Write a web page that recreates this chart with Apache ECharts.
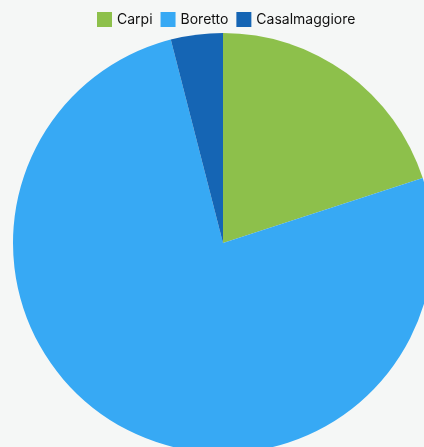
<!DOCTYPE html>
<html><head><meta charset="utf-8">
<script src="https://cdn.jsdelivr.net/npm/echarts@6/dist/echarts.min.js"></script>
<style>html,body{margin:0;padding:0;background:#f5f7f6;}#c{width:424px;height:447px;}</style>
</head><body><div id="c"></div>
<script>
const categories = ['Carpi', 'Boretto', 'Casalmaggiore'];
const values = [20, 76, 4];
const colors = ['#8dc04b', '#37a9f4', '#1565b4'];
const chart = echarts.init(document.getElementById('c'), null, {renderer: 'canvas'});
chart.setOption({
  backgroundColor: '#f5f7f6',
  animation: false,
  color: colors,
  legend: {
    top: 7, left: 92,
    itemWidth: 15, itemHeight: 15, itemGap: 8,
    icon: 'rect',
    textStyle: {fontFamily: 'Inter', fontSize: 14, color: '#111'},
    data: categories
  },
  series: [{
    type: 'pie',
    center: [223, 243],
    radius: 210,
    startAngle: 90,
    clockwise: true,
    label: {show: false},
    labelLine: {show: false},
    itemStyle: {borderWidth: 0},
    data: categories.map((n, i) => ({name: n, value: values[i]}))
  }]
});
</script></body></html>
